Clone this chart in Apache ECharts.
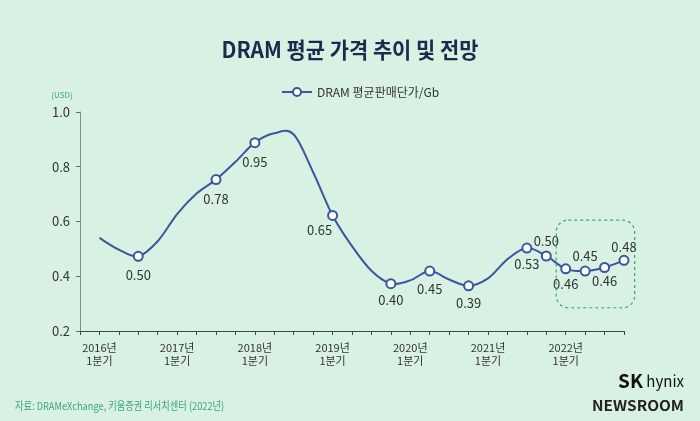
<!DOCTYPE html>
<html><head><meta charset="utf-8">
<script src="https://cdn.jsdelivr.net/npm/echarts@6/dist/echarts.min.js"></script>
<style>html,body{margin:0;padding:0;background:#d8f1e3}#c{width:700px;height:421px}</style>
</head><body><div id="c"></div>
<script>
// Quarter categories (leading blank slot before 2016 Q1)
const categories = ['',
 '2016년\n1분기','2016년\n2분기','2016년\n3분기','2016년\n4분기',
 '2017년\n1분기','2017년\n2분기','2017년\n3분기','2017년\n4분기',
 '2018년\n1분기','2018년\n2분기','2018년\n3분기','2018년\n4분기',
 '2019년\n1분기','2019년\n2분기','2019년\n3분기','2019년\n4분기',
 '2020년\n1분기','2020년\n2분기','2020년\n3분기','2020년\n4분기',
 '2021년\n1분기','2021년\n2분기','2021년\n3분기','2021년\n4분기',
 '2022년\n1분기','2022년\n2분기','2022년\n3분기','2022년\n4분기'];
// DRAM average selling price per Gb (USD), plotted positions
const priceValues = [null,
 0.54, 0.497, 0.473, 0.528,
 0.627, 0.702, 0.753, 0.818,
 0.888, 0.922, 0.918, 0.78,
 0.622, 0.51, 0.42, 0.373,
 0.385, 0.419, 0.388, 0.365,
 0.392, 0.462, 0.503, 0.474,
 0.427, 0.419, 0.432, 0.458];
// Printed data labels ('' = no marker / label)
const priceLabels = ['',
 '', '', '0.50', '',
 '', '', '0.78', '',
 '0.95', '', '', '',
 '0.65', '', '', '0.40',
 '', '0.45', '', '0.39',
 '', '', '0.53', '0.50',
 '0.46', '0.45', '0.46', '0.48'];
const yTicks = [0.2, 0.4, 0.6, 0.8, 1.0];
const seriesName = 'DRAM 평균판매단가/Gb';
const titleText = 'DRAM 평균 가격 추이 및 전망';
const sourceText = '자료: DRAMeXchange, 키움증권 리서치센터 (2022년)';

const FONT = "'Noto Sans CJK KR', 'Noto Sans', sans-serif";
const LINE = '#3b55a0';
const GREEN = '#3aa57a';

// label placement styles (by category index)
const labelStyle = {
  3: {position: 'bottom', distance: 7},
  7: {position: 'bottom', distance: 7},
  9: {position: 'bottom', distance: 7},
  13: {position: 'bottom', distance: 3, offset: [-13, 0]},
  16: {position: 'bottom', distance: 4},
  18: {position: 'bottom', distance: 6},
  20: {position: 'bottom', distance: 5},
  23: {position: 'bottom', distance: 4},
  24: {position: 'top', distance: 3},
  25: {position: 'bottom', distance: 3},
  26: {position: 'top', distance: 3},
  27: {position: 'bottom', distance: 2},
  28: {position: 'top', distance: 1}
};

const seriesData = priceValues.map((v, i) => {
  const lab = priceLabels[i];
  if (!lab) return {value: v, symbol: 'none', label: {show: false}};
  const st = labelStyle[i] || {position: 'bottom', distance: 5};
  return {
    value: v, symbol: 'emptyCircle',
    label: Object.assign({show: true, formatter: lab}, st)
  };
});

// smooth spline through the same points, positioned by the axes
function renderSpline(params, api) {
  if (params.dataIndex !== 0) return null;
  const pts = [];
  priceValues.forEach((v, i) => { if (v != null) pts.push(api.coord([i, v])); });
  let d = 'M' + pts[0][0] + ',' + pts[0][1];
  for (let k = 0; k < pts.length - 1; k++) {
    const p0 = pts[Math.max(k - 1, 0)], p1 = pts[k], p2 = pts[k + 1], p3 = pts[Math.min(k + 2, pts.length - 1)];
    const c1 = [p1[0] + (p2[0] - p0[0]) / 6, p1[1] + (p2[1] - p0[1]) / 6];
    const c2 = [p2[0] - (p3[0] - p1[0]) / 6, p2[1] - (p3[1] - p1[1]) / 6];
    d += ' C' + c1[0] + ',' + c1[1] + ' ' + c2[0] + ',' + c2[1] + ' ' + p2[0] + ',' + p2[1];
  }
  return {type: 'path', shape: {pathData: d},
    style: {fill: 'none', stroke: LINE, lineWidth: 2}};
}

const chart = echarts.init(document.getElementById('c'), null, {renderer: 'canvas'});
chart.setOption({
  backgroundColor: '#d8f1e3',
  animation: false,
  textStyle: {fontFamily: FONT},
  legend: {
    left: 276, top: 81, itemWidth: 30, itemHeight: 10, itemGap: 7,
    textStyle: {fontFamily: FONT, fontSize: 12, color: '#333'},
    lineStyle: {color: LINE, width: 2, opacity: 1},
    data: [seriesName]
  },
  grid: {left: 80, right: 76, top: 112, bottom: 90},
  xAxis: {
    type: 'category', data: categories, boundaryGap: false,
    axisLine: {lineStyle: {color: '#444', width: 1}},
    axisTick: {show: true, interval: 0, length: 4, lineStyle: {color: '#444'}},
    axisLabel: {
      interval: (i, v) => v.indexOf('1분기') >= 0,
      color: '#333', fontSize: 11, lineHeight: 13, margin: 10, fontFamily: FONT
    },
    splitLine: {show: false}
  },
  yAxis: {
    type: 'value', min: yTicks[0], max: yTicks[yTicks.length - 1], interval: 0.2,
    axisLine: {show: true, lineStyle: {color: '#888', width: 1}},
    axisTick: {show: true, length: 4, lineStyle: {color: '#666'}},
    axisLabel: {color: '#333', fontSize: 13, margin: 10, fontFamily: FONT,
      formatter: v => v.toFixed(1)},
    splitLine: {show: false}
  },
  series: [{
    name: 'spline', type: 'custom', silent: true, z: 2,
    data: [[1, priceValues[1]]],
    renderItem: renderSpline
  }, {
    name: seriesName, type: 'line', smooth: false,
    data: seriesData, symbolSize: 9, connectNulls: false,
    lineStyle: {color: LINE, width: 2, opacity: 0},
    itemStyle: {color: LINE, borderWidth: 1.8},
    label: {color: '#333', fontSize: 13, fontFamily: FONT},
    z: 3
  }]
});

function px(idx, val) { return chart.convertToPixel({xAxisIndex: 0, yAxisIndex: 0}, [idx, val]); }
const step = px(2, 0.5)[0] - px(1, 0.5)[0];
const boxL = px(25, 0.605)[0] - 0.49 * step;
const boxR = px(28, 0.605)[0] + 0.55 * step;
const boxT = px(25, 0.605)[1];
const boxB = px(25, 0.285)[1];

chart.setOption({
  graphic: [
    {type: 'text', x: 350, y: 50, scaleX: 0.95, z: 10,
     style: {text: titleText, textAlign: 'center', textVerticalAlign: 'middle',
       font: "bold 22px " + FONT, fill: '#1c2b4d'}},
    {type: 'text', x: 62, y: 95, z: 10,
     style: {text: '(USD)', textAlign: 'center', textVerticalAlign: 'middle',
       font: "8px " + FONT, fill: GREEN}},
    {type: 'rect', z: 5,
     shape: {x: boxL, y: boxT, width: boxR - boxL, height: boxB - boxT, r: 12},
     style: {fill: 'none', stroke: GREEN, lineWidth: 1.2, lineDash: [3, 3]}},
    {type: 'text', x: 15, y: 406, scaleX: 0.84, z: 10,
     style: {text: sourceText, textAlign: 'left', textVerticalAlign: 'middle',
       font: "11px " + FONT, fill: GREEN}},
    {type: 'text', x: 684, y: 381, z: 10,
     style: {text: '{a|SK} {b|hynix}', textAlign: 'right', textVerticalAlign: 'middle',
       rich: {a: {font: "bold 19px " + FONT, fill: '#111'}, b: {font: "15px " + FONT, fill: '#111'}}}},
    {type: 'text', x: 684, y: 406, scaleX: 1.1, z: 10,
     style: {text: 'NEWSROOM', textAlign: 'right', textVerticalAlign: 'middle',
       font: "bold 14px " + FONT, fill: '#222'}}
  ]
});
</script></body></html>
